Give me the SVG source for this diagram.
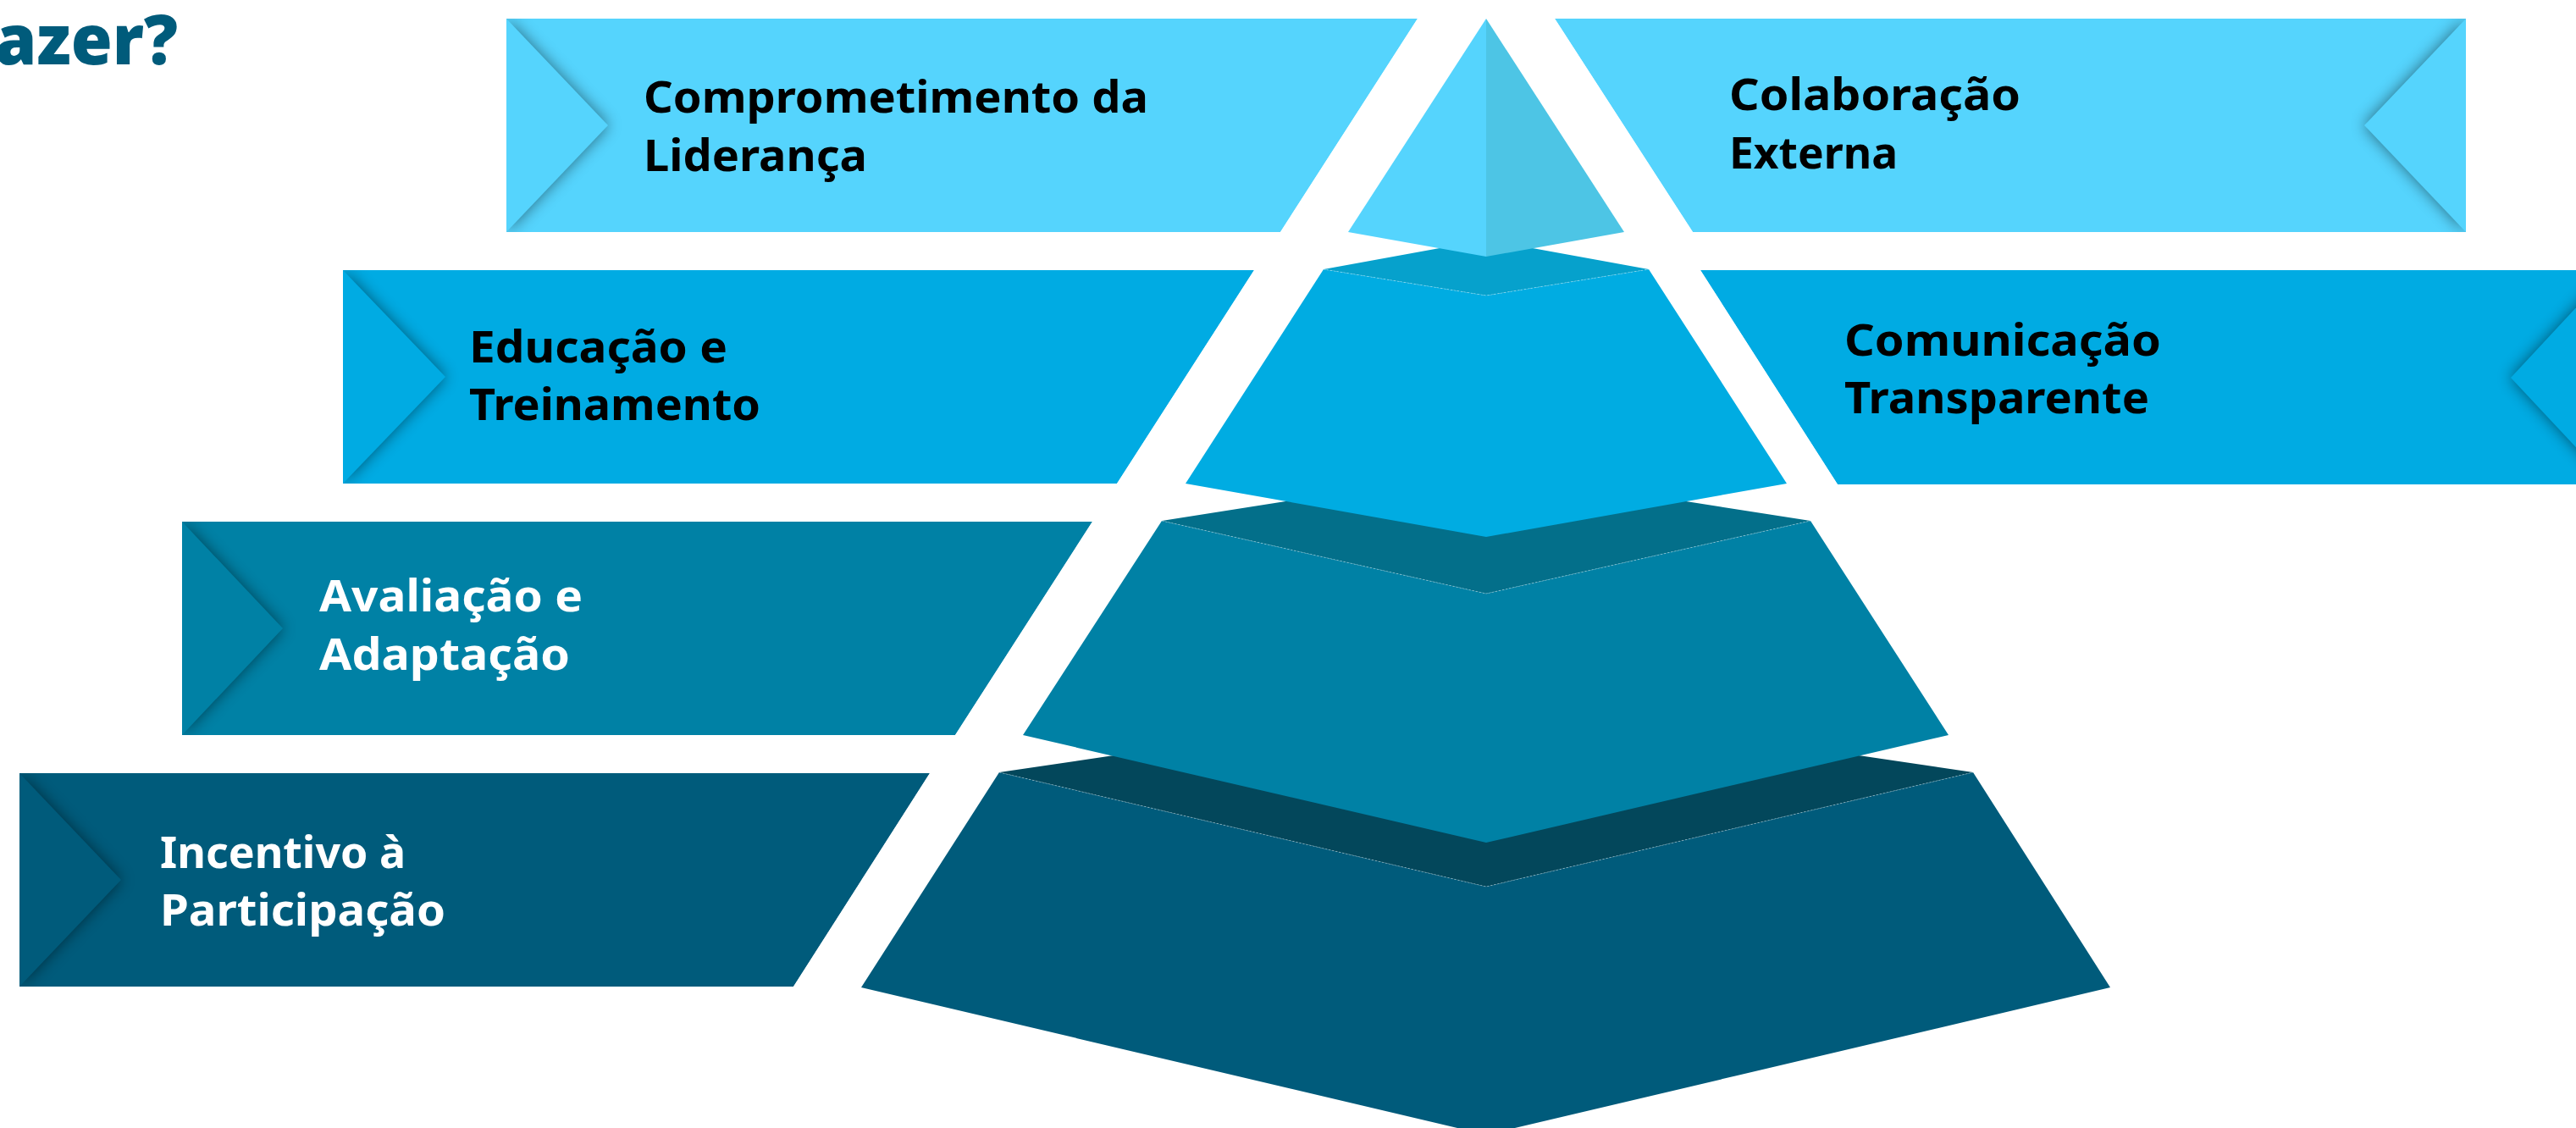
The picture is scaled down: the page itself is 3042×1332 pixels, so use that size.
<svg xmlns="http://www.w3.org/2000/svg" width="3042" height="1332" viewBox="0 0 3042 1332">
<defs>
<style>
.lbl{font-family:"Noto Sans","Open Sans","Liberation Sans",sans-serif;font-weight:700;font-size:52px}
.dk{fill:#000}
.wt{fill:#fff}
.sh{fill:#000;opacity:.5;filter:url(#blur)}
.edge{fill:none;stroke:#ffffff;stroke-opacity:.35;stroke-width:1;stroke-dasharray:2 2}
</style>
<filter id="blur" x="-50%" y="-50%" width="200%" height="200%"><feGaussianBlur stdDeviation="9"/></filter>
<clipPath id="c1l"><polygon points="598,22 1674,22 1512,274 598,274"/></clipPath>
<clipPath id="c1r"><polygon points="1836,22 2912,22 2912,274 1999,274"/></clipPath>
<clipPath id="c2l"><polygon points="405,319 1481,319 1319,571 405,571"/></clipPath>
<clipPath id="c2r"><polygon points="2008,319 3042,319 3042,572 2170,572"/></clipPath>
<clipPath id="c3l"><polygon points="215,616 1290,616 1128,868 215,868"/></clipPath>
<clipPath id="c4l"><polygon points="23,913 1098,913 937,1165 23,1165"/></clipPath>
</defs>
<rect width="3042" height="1332" fill="#fff"/>

<g id="title">
<text x="-6" y="76" textLength="216" lengthAdjust="spacingAndGlyphs" style="font-family:'Noto Sans','Liberation Sans',sans-serif;font-weight:900;font-size:82px" fill="#005B7B">azer?</text>
</g>

<g id="pyramid">
<g id="level4">
<polygon points="1180,912 1755,827 2330,912 1755,1047" fill="#03475B"/>
<polygon points="1180,912 1755,1047 2330,912 2492,1166 1755,1340 1017,1166" fill="#005B7B"/>
<polyline class="edge" points="1180,912 1755,1047 2330,912"/>
</g>
<g id="level3">
<polygon points="1372,615 1755,555 2138,615 1755,701" fill="#036F8A"/>
<polygon points="1372,615 1755,701 2138,615 2301,868 1755,995 1208,868" fill="#0081A5"/>
<polyline class="edge" points="1372,615 1755,701 2138,615"/>
</g>
<g id="level2">
<polygon points="1563,318 1755,283 1947,318 1755,349" fill="#06A1CC"/>
<polygon points="1563,318 1755,349 1947,318 2110,571 1755,634 1400,571" fill="#00ACE2"/>
<polyline class="edge" points="1563,318 1755,349 1947,318"/>
</g>
<g id="level1">
<polygon points="1755,22 1592,274 1755,303" fill="#55D4FD"/>
<polygon points="1755,22 1918,274 1755,303" fill="#4DC5E5"/>
</g>
</g>

<g id="band-comprometimento">
<g clip-path="url(#c1l)">
<polygon points="598,22 1674,22 1512,274 598,274" fill="#55D4FD"/>
<polygon class="sh" points="598,22 718,148 598,274"/>
<polygon points="598,22 718,148 598,274" fill="#55D4FD"/>
</g>
<text class="lbl dk" x="760" y="133" textLength="596" lengthAdjust="spacingAndGlyphs">Comprometimento da</text>
<text class="lbl dk" x="760" y="202" textLength="264" lengthAdjust="spacingAndGlyphs">Liderança</text>
</g>

<g id="band-colaboracao">
<g clip-path="url(#c1r)">
<polygon points="1836,22 2912,22 2912,274 1999,274" fill="#55D4FD"/>
<polygon class="sh" points="2912,22 2792,148 2912,274"/>
<polygon points="2912,22 2792,148 2912,274" fill="#55D4FD"/>
</g>
<text class="lbl dk" x="2042" y="130" textLength="344" lengthAdjust="spacingAndGlyphs">Colaboração</text>
<text class="lbl dk" x="2042" y="199" textLength="199" lengthAdjust="spacingAndGlyphs">Externa</text>
</g>

<g id="band-educacao">
<g clip-path="url(#c2l)">
<polygon points="405,319 1481,319 1319,571 405,571" fill="#00ABE3"/>
<polygon class="sh" points="405,319 526,445 405,571"/>
<polygon points="405,319 526,445 405,571" fill="#00ABE3"/>
</g>
<text class="lbl dk" x="554" y="428" textLength="305" lengthAdjust="spacingAndGlyphs">Educação e</text>
<text class="lbl dk" x="554" y="496" textLength="344" lengthAdjust="spacingAndGlyphs">Treinamento</text>
</g>

<g id="band-comunicacao">
<g clip-path="url(#c2r)">
<polygon points="2008,319 3042,319 3042,572 2170,572" fill="#00ABE3"/>
<polygon class="sh" points="3083,319 2965,446 3083,572"/>
<polygon points="3083,319 2965,446 3083,572" fill="#00ABE3"/>
</g>
<text class="lbl dk" x="2178" y="420" textLength="374" lengthAdjust="spacingAndGlyphs">Comunicação</text>
<text class="lbl dk" x="2178" y="488" textLength="360" lengthAdjust="spacingAndGlyphs">Transparente</text>
</g>

<g id="band-avaliacao">
<g clip-path="url(#c3l)">
<polygon points="215,616 1290,616 1128,868 215,868" fill="#0081A5"/>
<polygon class="sh" points="215,616 334,742 215,868"/>
<polygon points="215,616 334,742 215,868" fill="#0081A5"/>
</g>
<text class="lbl wt" x="377" y="722" textLength="311" lengthAdjust="spacingAndGlyphs">Avaliação e</text>
<text class="lbl wt" x="377" y="791" textLength="296" lengthAdjust="spacingAndGlyphs">Adaptação</text>
</g>

<g id="band-incentivo">
<g clip-path="url(#c4l)">
<polygon points="23,913 1098,913 937,1165 23,1165" fill="#005B7B"/>
<polygon class="sh" points="23,913 143,1039 23,1165"/>
<polygon points="23,913 143,1039 23,1165" fill="#005B7B"/>
</g>
<text class="lbl wt" x="189" y="1025" textLength="290" lengthAdjust="spacingAndGlyphs">Incentivo à</text>
<text class="lbl wt" x="189" y="1093" textLength="337" lengthAdjust="spacingAndGlyphs">Participação</text>
</g>

<g id="connectors"/>
</svg>
